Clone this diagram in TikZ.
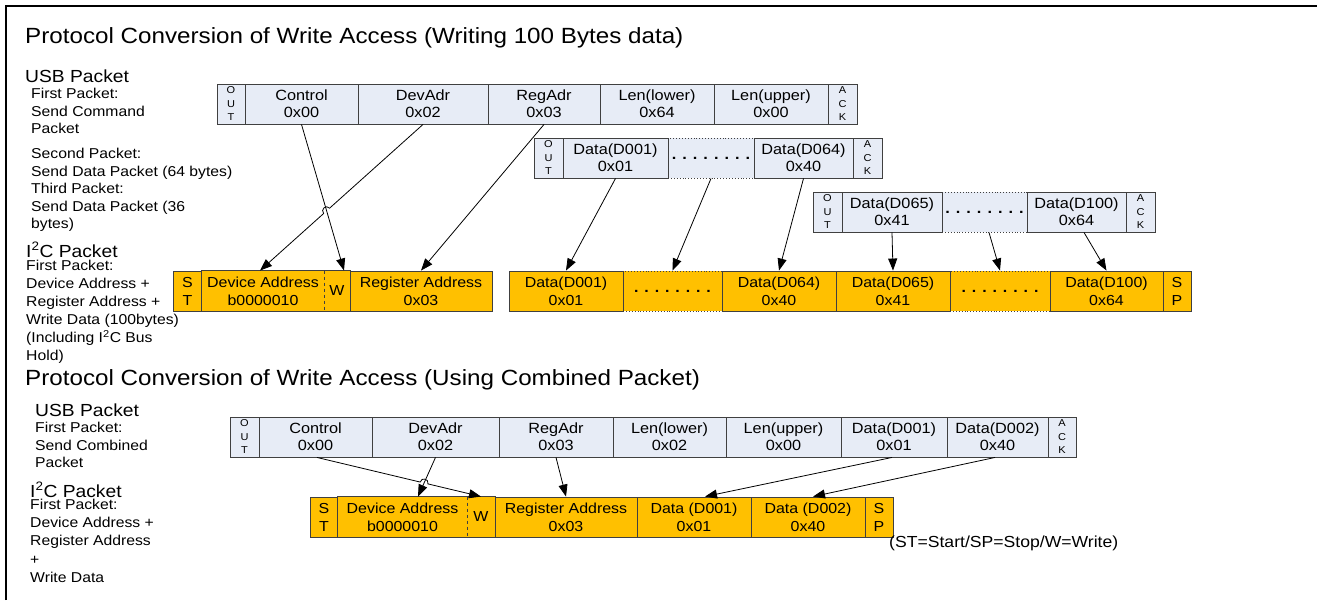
\documentclass[tikz,border=0pt]{standalone}
\usepackage{fontspec}
\setmainfont{Liberation Sans}[FakeStretch=1.1]
\usetikzlibrary{arrows.meta,calc,intersections}
\definecolor{usbc}{RGB}{231,236,246}
\definecolor{i2cc}{RGB}{255,192,0}
\definecolor{bd}{RGB}{64,64,64}
\newcommand\fsz[2]{\fontsize{#1}{#2}\selectfont}
\newcommand\dotrowtxt{\bfseries . . . . . . . .}
\tikzset{
  box/.style={draw=bd, line width=0.9pt, minimum height=40pt, inner sep=0pt, align=center},
  ubox/.style={box, fill=usbc, font=\fsz{14.8}{17}},
  ibox/.style={box, fill=i2cc, font=\fsz{14.5}{18}},
  vlet/.style={font=\fsz{10}{13.5}},
  dotbox/.style={dotted},
  ttl/.style={anchor=base west, inner sep=0pt, font=\fsz{22}{26}},
  sec/.style={anchor=base west, inner sep=0pt, font=\fsz{17.5}{20}},
  lbl/.style={anchor=north west, inner sep=0pt, align=left, font=\fsz{14.3}{17.5}},
  arr/.style={draw=black, line width=0.8pt, -{Triangle[length=12pt,width=9pt]}},
  edge/.style={draw=bd, line width=0.9pt},
}
\begin{document}
\begin{tikzpicture}[x=1pt,y=-1pt]
\useasboundingbox (0,0) rectangle (1317,600);
% frame
\draw[line width=2pt] (5.5,600) -- (5.5,5.5) -- (1317,5.5);

% ---------- Section 1 ----------
\node[ttl] (t1) at (25,43) {Protocol Conversion of Write Access (Writing 100 Bytes data)};
\node[sec] (s1u) at (25,82) {USB Packet};
\node[lbl] (la) at (31,88) {First Packet:\\Send Command\\Packet};
\node[lbl] (lb) at (31,148) {Second Packet:\\Send Data Packet (64 bytes)\\Third Packet:\\Send Data Packet (36\\bytes)};
\node[sec] (s1i) at (26,257) {I\textsuperscript{2}C Packet};
\node[lbl, font=\fsz{14.3}{18}] (lc) at (26,260) {First Packet:\\Device Address +\\Register Address +\\Write Data (100bytes)\\(Including I\textsuperscript{2}C Bus\\Hold)};

% USB row 1
\node[ubox, vlet, minimum width=28pt] (u1o) at (231,104) {O\\U\\T};
\node[ubox, minimum width=113pt] (u1c) at (301.5,104) {Control\\0x00};
\node[ubox, minimum width=130pt] (u1d) at (423,104) {DevAdr\\0x02};
\node[ubox, minimum width=112pt] (u1r) at (544,104) {RegAdr\\0x03};
\node[ubox, minimum width=114pt] (u1l) at (657,104) {Len(lower)\\0x64};
\node[ubox, minimum width=114pt] (u1u) at (771,104) {Len(upper)\\0x00};
\node[ubox, vlet, minimum width=29pt] (u1a) at (842.5,104) {A\\C\\K};

% USB row 2
\node[ubox, dotbox, minimum width=86pt] (u2b) at (711,158) {\dotrowtxt};
\node[ubox, vlet, minimum width=29pt] (u2o) at (548.5,158) {O\\U\\T};
\node[ubox, minimum width=105pt] (u2a) at (615.5,158) {Data(D001)\\0x01};
\node[ubox, minimum width=99pt] (u2c) at (803.5,158) {Data(D064)\\0x40};
\node[ubox, vlet, minimum width=29pt] (u2k) at (867.5,158) {A\\C\\K};

% USB row 3
\node[ubox, dotbox, minimum width=85pt] (u3b) at (984.5,212) {\dotrowtxt};
\node[ubox, vlet, minimum width=29pt] (u3o) at (827.5,212) {O\\U\\T};
\node[ubox, minimum width=100pt] (u3a) at (892,212) {Data(D065)\\0x41};
\node[ubox, minimum width=99pt] (u3c) at (1076.5,212) {Data(D100)\\0x64};
\node[ubox, vlet, minimum width=29pt] (u3k) at (1140.5,212) {A\\C\\K};

% I2C row 1
\node[ibox, dotbox, minimum width=99pt] (i1b) at (672.5,291) {\dotrowtxt};
\node[ibox, dotbox, minimum width=100pt] (i1f) at (1000,291) {\dotrowtxt};
\node[ibox, minimum width=29pt] (i1s) at (187.5,291) {S\\T};
\node[ibox, draw=none, minimum width=122pt] (i1d) at (263,291) {Device Address\\b0000010};
\node[ibox, draw=none, minimum width=26pt] (i1w) at (337,291) {W};
\draw[edge] (i1d.north west) rectangle (i1w.south east);
\draw[edge, dashed] (i1d.north east) -- (i1d.south east);
\node[ibox, minimum width=142pt] (i1r) at (421,291) {Register Address\\0x03};
\node[ibox, minimum width=114pt] (i1a) at (566,291) {Data(D001)\\0x01};
\node[ibox, minimum width=114pt] (i1c) at (779,291) {Data(D064)\\0x40};
\node[ibox, minimum width=114pt] (i1e) at (893,291) {Data(D065)\\0x41};
\node[ibox, minimum width=113pt] (i1g) at (1106.5,291) {Data(D100)\\0x64};
\node[ibox, minimum width=28pt] (i1p) at (1177,291) {S\\P};

% connector end points
\coordinate (e1w) at ([xshift=7pt]i1w.north);
\coordinate (e1d) at ([xshift=-3pt]i1d.north);
\coordinate (s3b) at ([xshift=4.5pt]u3b.south);
\coordinate (s3c) at ([xshift=7.5pt]u3c.south);

\path[name path=p1] (u1c.south) -- (e1w);
\path[name path=p2] (u1d.south) -- (e1d);
\path[name intersections={of=p1 and p2, by=j1}];
\draw[arr] (u1c.south) -- (e1w);
\draw[arr] (u1d.south) -- ($(j1)!4pt!(u1d.south)$) to[bend right=90, looseness=1.7] ($(j1)!4pt!(e1d)$) -- (e1d);
\draw[arr] (u1r.south) -- (i1r.north);
\draw[arr] (u2a.south) -- (i1a.north);
\draw[arr] (u2b.south) -- (i1b.north);
\draw[arr] (u2c.south) -- (i1c.north);
\draw[arr] (u3a.south) -- (i1e.north);
\draw[arr] (s3b) -- (i1f.north);
\draw[arr] (s3c) -- (i1g.north);

% ---------- Section 2 ----------
\node[ttl] (t2) at (25,385) {Protocol Conversion of Write Access (Using Combined Packet)};
\node[sec] (s2u) at (35,416) {USB Packet};
\node[lbl] (ld) at (35,422) {First Packet:\\Send Combined\\Packet};
\node[sec] (s2i) at (30,497) {I\textsuperscript{2}C Packet};
\node[lbl, font=\fsz{14.3}{18.2}] (le) at (30,499) {First Packet:\\Device Address +\\Register Address\\+\\Write Data};

% USB row 4
\node[ubox, vlet, minimum width=29pt] (u4o) at (244.5,437) {O\\U\\T};
\node[ubox, minimum width=113pt] (u4c) at (315.5,437) {Control\\0x00};
\node[ubox, minimum width=127pt] (u4d) at (435.5,437) {DevAdr\\0x02};
\node[ubox, minimum width=114pt] (u4r) at (556,437) {RegAdr\\0x03};
\node[ubox, minimum width=113pt] (u4l) at (669.5,437) {Len(lower)\\0x02};
\node[ubox, minimum width=115pt] (u4u) at (783.5,437) {Len(upper)\\0x00};
\node[ubox, minimum width=106pt] (u4a) at (894,437) {Data(D001)\\0x01};
\node[ubox, minimum width=101pt] (u4b) at (997.5,437) {Data(D002)\\0x40};
\node[ubox, vlet, minimum width=28pt] (u4k) at (1062,437) {A\\C\\K};

% I2C row 2
\node[ibox, minimum width=28pt] (i2s) at (324,517) {S\\T};
\node[ibox, draw=none, minimum width=129pt] (i2d) at (402.5,517) {Device Address\\b0000010};
\node[ibox, draw=none, minimum width=28pt] (i2w) at (481,517) {W};
\draw[edge] (i2d.north west) rectangle (i2w.south east);
\draw[edge, dashed] (i2d.north east) -- (i2d.south east);
\node[ibox, minimum width=142pt] (i2r) at (566,517) {Register Address\\0x03};
\node[ibox, minimum width=114pt] (i2a) at (694,517) {Data (D001)\\0x01};
\node[ibox, minimum width=114pt] (i2b) at (808,517) {Data (D002)\\0x40};
\node[ibox, minimum width=28pt] (i2p) at (879,517) {S\\P};

\node[anchor=base west, inner sep=0pt, font=\fsz{16}{19}] (leg) at (889,547) {(ST=Start/SP=Stop/W=Write)};

\coordinate (c2s) at ([xshift=1.5pt]u4c.south);
\coordinate (e2d) at ([xshift=15.5pt]i2d.north);
\coordinate (s4a) at ([xshift=-2pt]u4a.south);
\coordinate (e4a) at ([xshift=11pt]i2a.north);
\coordinate (s4b) at ([xshift=-2.5pt]u4b.south);
\coordinate (e4b) at ([xshift=5pt]i2b.north);

\path[name path=q1] (c2s) -- (i2w.north);
\path[name path=q2] (u4d.south) -- (e2d);
\path[name intersections={of=q1 and q2, by=j2}];
\draw[arr] (u4d.south) -- (e2d);
\draw[arr] (c2s) -- ($(j2)!4pt!(c2s)$) to[bend left=90, looseness=1.7] ($(j2)!4pt!(i2w.north)$) -- (i2w.north);
\draw[arr] (u4r.south) -- (i2r.north);
\draw[arr] (s4a) -- (e4a);
\draw[arr] (s4b) -- (e4b);
\end{tikzpicture}
\end{document}
